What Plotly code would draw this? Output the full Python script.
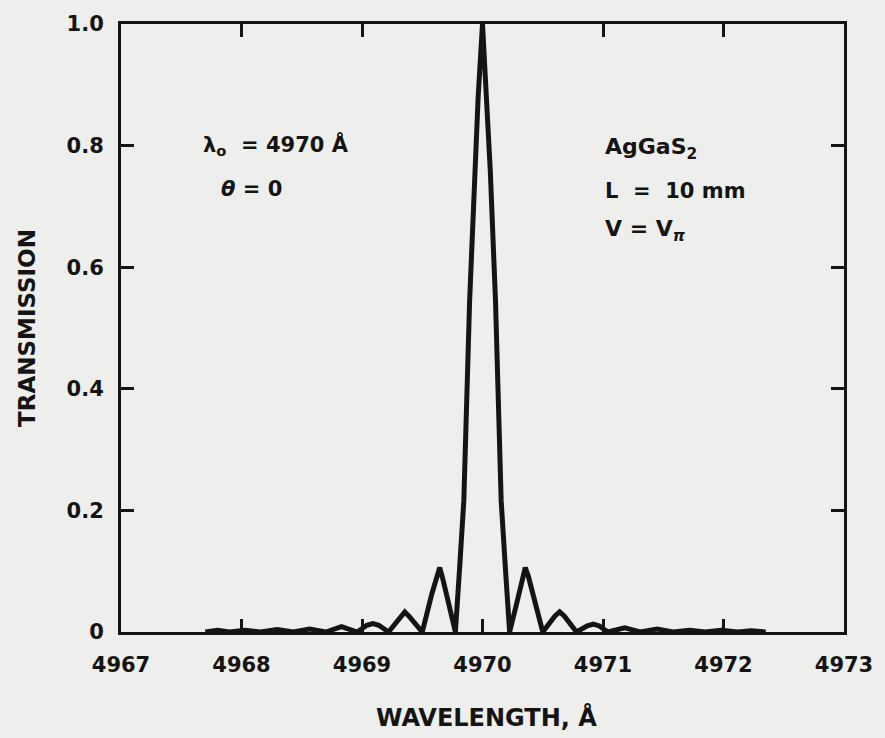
import plotly.graph_objects as go

# Transmission curve
wavelength = [
    4967.70, 4967.80, 4967.90,
    4968.03, 4968.16,
    4968.295, 4968.43,
    4968.565, 4968.70,
    4968.83, 4968.96,
    4969.04, 4969.09, 4969.14, 4969.22,
    4969.32, 4969.355, 4969.39, 4969.50,
    4969.58, 4969.62, 4969.645, 4969.67, 4969.72, 4969.775,
    4969.81, 4969.845, 4969.893, 4969.935, 4969.964, 4970.00,
    4970.036, 4970.065, 4970.108, 4970.155, 4970.19, 4970.225,
    4970.28, 4970.33, 4970.355, 4970.38, 4970.42, 4970.50,
    4970.60, 4970.64, 4970.68, 4970.78,
    4970.87, 4970.92, 4970.97, 4971.04,
    4971.18, 4971.31,
    4971.45, 4971.58,
    4971.72, 4971.85,
    4971.98, 4972.12,
    4972.23, 4972.35,
]
transmission = [
    0.0, 0.003, 0.0,
    0.003, 0.0,
    0.004, 0.0,
    0.005, 0.0,
    0.009, 0.0,
    0.011, 0.014, 0.011, 0.0,
    0.026, 0.033, 0.026, 0.0,
    0.063, 0.092, 0.106, 0.088, 0.044, 0.0,
    0.105, 0.216, 0.544, 0.757, 0.88, 1.0,
    0.88, 0.757, 0.544, 0.216, 0.105, 0.0,
    0.044, 0.088, 0.106, 0.092, 0.063, 0.0,
    0.026, 0.033, 0.026, 0.0,
    0.010, 0.013, 0.010, 0.0,
    0.007, 0.0,
    0.005, 0.0,
    0.003, 0.0,
    0.003, 0.0,
    0.002, 0.0,
]

x_ticks = [4967, 4968, 4969, 4970, 4971, 4972, 4973]
x_tick_labels = ["4967", "4968", "4969", "4970", "4971", "4972", "4973"]
y_ticks = [0, 0.2, 0.4, 0.6, 0.8, 1.0]
y_tick_labels = ["0", "0.2", "0.4", "0.6", "0.8", "1.0"]

ink = "#141414"
bg = "#eeeeec"
font_family = "DejaVu Sans"

fig = go.Figure()
fig.add_trace(go.Scatter(
    x=wavelength, y=transmission, mode="lines",
    line=dict(color=ink, width=5),
    showlegend=False, hoverinfo="skip", cliponaxis=False,
))

axis_common = dict(
    showgrid=False, zeroline=False,
    showline=True, linecolor=ink, linewidth=3, mirror="ticks",
    ticks="inside", ticklen=13, tickwidth=2.5, tickcolor=ink,
    tickfont=dict(family=font_family, size=21, color=ink, weight="bold"),
)

fig.update_layout(
    width=885, height=738,
    margin=dict(l=121, r=30, t=22, b=106),
    paper_bgcolor=bg, plot_bgcolor=bg,
    xaxis=dict(range=[4967, 4973], tickvals=x_ticks, ticktext=x_tick_labels,
               ticklabelstandoff=12, **axis_common),
    yaxis=dict(range=[0, 1.0], tickvals=y_ticks, ticktext=y_tick_labels,
               ticklabelstandoff=10, **axis_common),
    font=dict(family=font_family, color=ink),
)

text_font = dict(family=font_family, size=21, color=ink, weight="bold")
annotations = [
    dict(text="WAVELENGTH, Å", x=0.505, y=-0.14, xref="paper", yref="paper",
         xanchor="center", yanchor="middle", font=dict(family=font_family, size=24, color=ink, weight="bold")),
    dict(text="TRANSMISSION", x=-0.13, y=0.5, xref="paper", yref="paper", textangle=-90,
         xanchor="center", yanchor="middle", font=dict(family=font_family, size=23, color=ink, weight="bold")),
    dict(text="λ<sub>o</sub>  = 4970 Å", x=4967.66, y=0.80, xanchor="left", yanchor="middle"),
    dict(text="<i>θ</i> = 0", x=4967.81, y=0.729, xanchor="left", yanchor="middle"),
    dict(text="AgGaS<sub>2</sub>", x=4971.0, y=0.795, xanchor="left", yanchor="middle",
         font=dict(family=font_family, size=22, color=ink, weight="bold")),
    dict(text="L  =  10 mm", x=4971.0, y=0.725, xanchor="left", yanchor="middle"),
    dict(text="V = V<sub><i>π</i></sub>", x=4971.0, y=0.661, xanchor="left", yanchor="middle",
         font=dict(family=font_family, size=22, color=ink, weight="bold")),
]
for a in annotations:
    a.setdefault("xref", "x")
    a.setdefault("yref", "y")
    a.setdefault("font", text_font)
    a["showarrow"] = False
    fig.add_annotation(**a)

fig.write_html("out.html")
